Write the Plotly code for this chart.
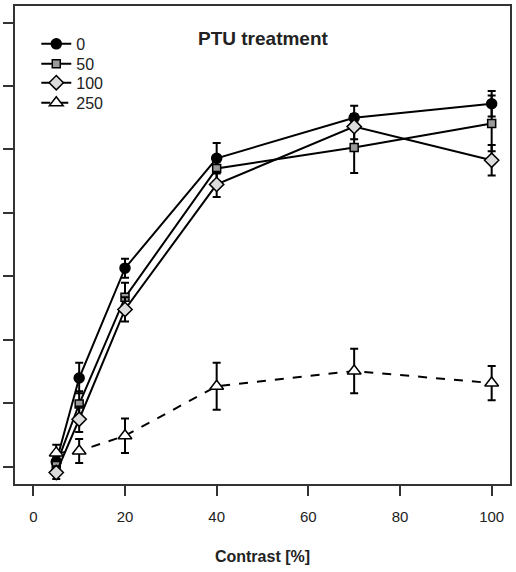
import plotly.graph_objects as go

contrast = [5, 10, 20, 40, 70, 100]
series_names = ["0", "50", "100", "250"]
y_0 = [0.08, 1.40, 3.13, 4.86, 5.50, 5.72]
e_0 = [0.12, 0.24, 0.15, 0.24, 0.19, 0.20]
y_50 = [0.03, 0.99, 2.67, 4.70, 5.03, 5.41]
e_50 = [0.12, 0.20, 0.23, 0.20, 0.40, 0.44]
y_100 = [-0.09, 0.75, 2.48, 4.45, 5.36, 4.83]
e_100 = [0.10, 0.20, 0.19, 0.20, 0.20, 0.24]
y_250 = [0.22, 0.25, 0.49, 1.27, 1.51, 1.32]
e_250 = [0.13, 0.19, 0.27, 0.37, 0.35, 0.27]
x_ticks = [0, 20, 40, 60, 80, 100]
y_ticks = [0, 1, 2, 3, 4, 5, 6, 7]

styles = [
    (y_0, e_0, "circle", "black", 10, "solid"),
    (y_50, e_50, "square", "#9a9a9a", 8, "solid"),
    (y_100, e_100, "diamond", "#dcdcdc", 11, "solid"),
    (y_250, e_250, "triangle-up", "white", 12, "dash"),
]

legend_ids = ["legend", "legend2", "legend3", "legend4"]
legend_rows_px = [43, 63, 82, 102]

fig = go.Figure()
for name, lid, (ys, es, sym, fill, sz, dash) in zip(series_names, legend_ids, styles):
    fig.add_trace(go.Scatter(
        x=contrast, y=ys, name=name, mode="lines+markers", legend=lid,
        line=dict(color="black", width=2, dash=dash),
        marker=dict(symbol=sym, color=fill, size=sz,
                    line=dict(color="black", width=1.5)),
        error_y=dict(type="data", array=es, visible=True,
                     color="black", thickness=2, width=4),
    ))

font = "Liberation Sans, Arial, sans-serif"
plot_top, plot_bottom = 5, 484
plot_h = plot_bottom - plot_top
legend_layout = {}
for lid, ypx in zip(legend_ids, legend_rows_px):
    legend_layout[lid] = dict(
        x=0.043, y=(plot_bottom - ypx) / plot_h, xanchor="left",
        yanchor="middle", bgcolor="rgba(0,0,0,0)",
        font=dict(size=16, color="#222"), itemwidth=30,
    )

fig.update_layout(
    width=516, height=572,
    margin=dict(l=15, r=4, t=plot_top, b=572 - plot_bottom),
    paper_bgcolor="white", plot_bgcolor="white",
    font=dict(family=font, size=15, color="#222"),
    showlegend=True,
    annotations=[dict(text="<b>PTU treatment</b>", x=0.503, y=0.931,
                      xref="paper", yref="paper", xanchor="center",
                      yanchor="middle", showarrow=False,
                      font=dict(size=19, color="#222"))],
    **legend_layout,
)
fig.update_xaxes(
    range=[-4, 104], tickvals=x_ticks, ticks="outside", ticklen=10,
    tickwidth=1.5, tickcolor="#333", showline=True, linecolor="#333",
    linewidth=1.5, mirror=True, showgrid=False, zeroline=False,
    ticklabelstandoff=8,
    title=dict(text="<b>Contrast [%]</b>", font=dict(size=16), standoff=27),
    tickfont=dict(size=15, color="#222"),
)
fig.update_yaxes(
    range=[-0.27, 7.26], tickvals=y_ticks, showticklabels=False,
    ticks="outside", ticklen=10, tickwidth=1.5, tickcolor="#333",
    showline=True, linecolor="#333", linewidth=1.5, mirror=True,
    showgrid=False, zeroline=False,
)
fig.write_html("out.html")
